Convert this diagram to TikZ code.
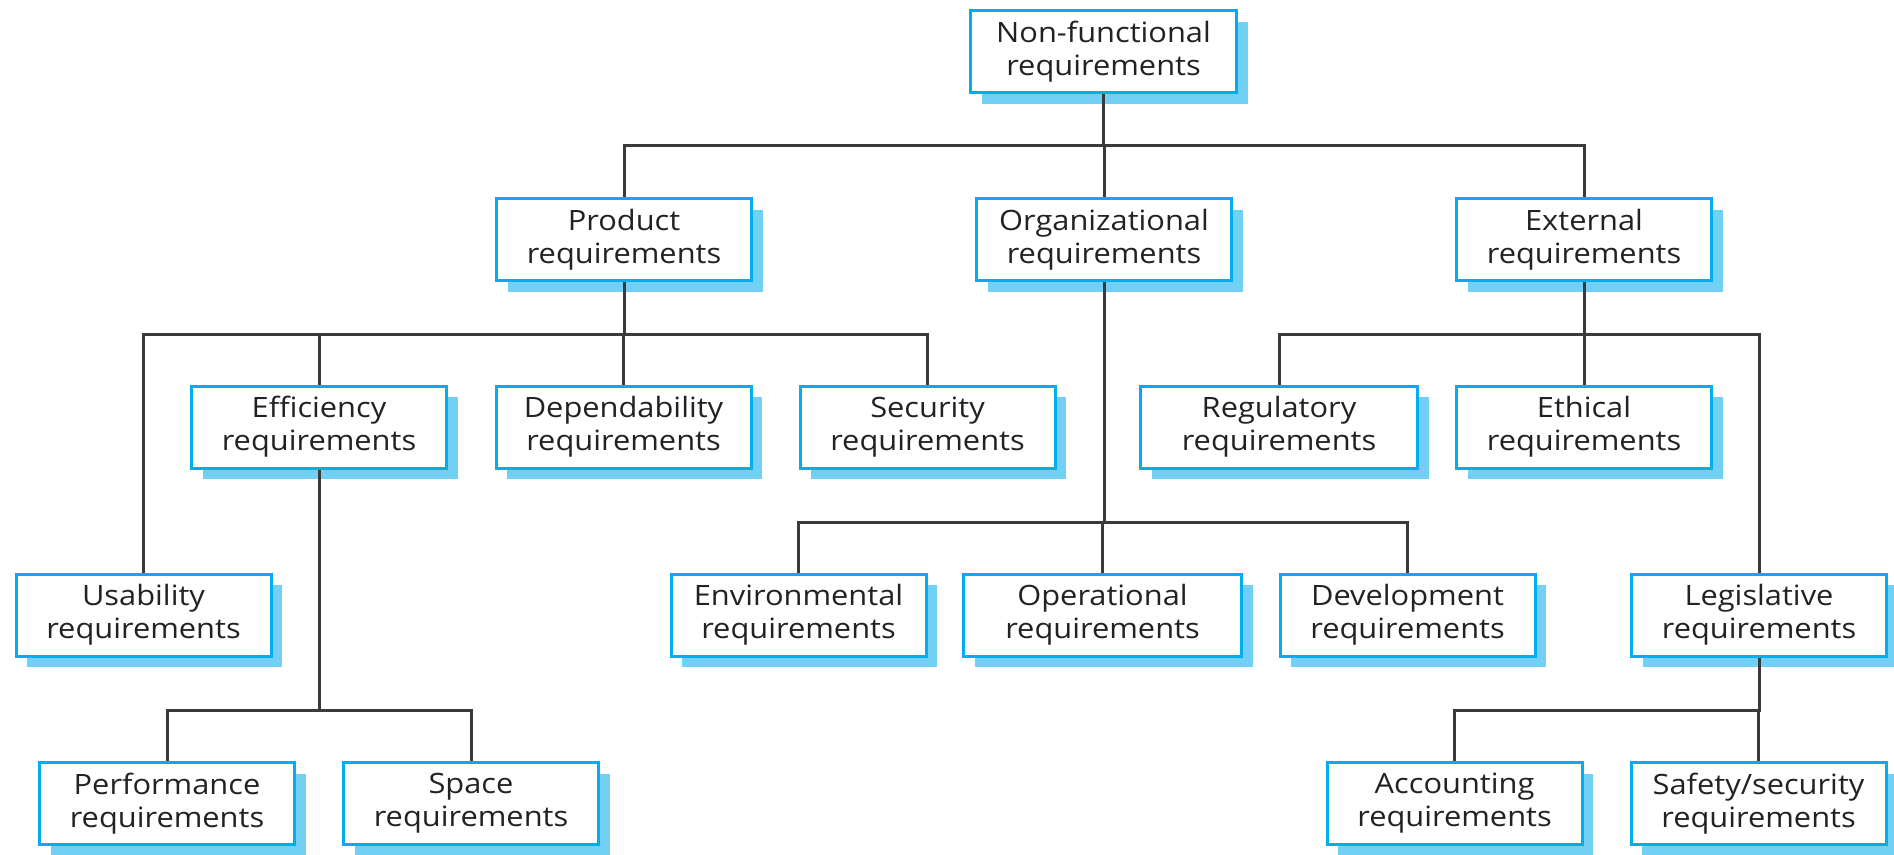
\documentclass[tikz,border=0pt]{standalone}
\usepackage{fontspec}
\setmainfont{Open Sans}[FakeStretch=1.1]
\usetikzlibrary{shadows}
\definecolor{boxc}{HTML}{00AEEF}
\definecolor{shc}{HTML}{73D0F5}
\definecolor{linec}{HTML}{3A3A3A}
\definecolor{txtc}{HTML}{222222}
\begin{document}
\begin{tikzpicture}[x=1pt,y=-1pt,
  req/.style={draw=boxc, line width=3pt, fill=white, minimum width=255pt,
    minimum height=82pt, inner sep=0pt, align=center, text=txtc,
    font=\fontsize{28}{33}\selectfont,
    drop shadow={shadow xshift=11pt, shadow yshift=-11pt, fill=shc, opacity=1}},
  conn/.style={draw=linec, line width=3pt}]
\useasboundingbox (0,0) rectangle (1894,854);
% row 1
\node[req, minimum width=266pt] (nf) at (1103.5,51.5) {Non-functional\\requirements};
% row 2
\node[req] (prod) at (624,239.5) {Product\\requirements};
\node[req] (org) at (1104,239.5) {Organizational\\requirements};
\node[req] (ext) at (1584,239.5) {External\\requirements};
% row 3
\node[req] (eff) at (319,427) {Efficiency\\requirements};
\node[req] (dep) at (623.5,427) {Dependability\\requirements};
\node[req] (sec) at (927.5,427) {Security\\requirements};
\node[req, minimum width=277pt] (reg) at (1279,427) {Regulatory\\requirements};
\node[req] (eth) at (1584,427) {Ethical\\requirements};
% row 4
\node[req] (usa) at (143.5,615) {Usability\\requirements};
\node[req] (env) at (798.5,615) {Environmental\\requirements};
\node[req, minimum width=278pt] (ope) at (1102.5,615) {Operational\\requirements};
\node[req] (dev) at (1407.5,615) {Development\\requirements};
\node[req] (leg) at (1759,615) {Legislative\\requirements};
% row 5
\node[req] (per) at (167,803.5) {Performance\\requirements};
\node[req] (spa) at (471,803.5) {Space\\requirements};
\node[req] (acc) at (1454.5,803.5) {Accounting\\requirements};
\node[req] (saf) at (1758.5,803.5) {Safety/security\\requirements};
% bus levels
\coordinate (b0) at (0,145);
\coordinate (b1) at (0,334);
\coordinate (b2) at (0,522);
\coordinate (b3) at (0,710);
% connectors
\foreach \c in {prod,org,ext}
  \draw[conn] (nf.south) -- (nf.south |- b0) -| (\c.north);
\foreach \c in {usa,eff,dep,sec}
  \draw[conn] (prod.south) -- (prod.south |- b1) -| (\c.north);
\foreach \c in {reg,eth,leg}
  \draw[conn] (ext.south) -- (ext.south |- b1) -| (\c.north);
\foreach \c in {env,ope,dev}
  \draw[conn] (org.south) -- (org.south |- b2) -| (\c.north);
\foreach \c in {per,spa}
  \draw[conn] (eff.south) -- (eff.south |- b3) -| (\c.north);
\foreach \c in {acc,saf}
  \draw[conn] (leg.south) -- (leg.south |- b3) -| (\c.north);
\end{tikzpicture}
\end{document}
